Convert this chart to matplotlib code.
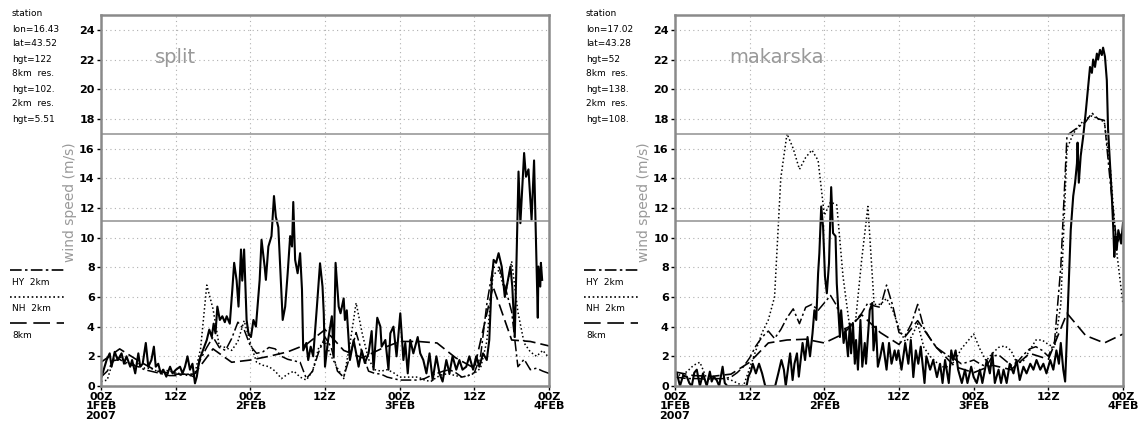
import numpy as np
import matplotlib.pyplot as plt
from matplotlib.lines import Line2D

# time axes (hours after 00Z 1 FEB 2007)
hours_1h = np.arange(0, 73, 1)
hours_3h = np.arange(0, 73, 3)

# ---------------- split ----------------
split_info = ['station', 'lon=16.43', 'lat=43.52', 'hgt=122', '8km  res.',
              'hgt=102.', '2km  res.', 'hgt=5.51']
split_obs_h = [0.1, 0.9, 1.4, 1.7, 2.2, 2.7, 3.3, 3.7, 4.1, 4.7, 5.0, 5.5, 6.0, 6.3, 6.7,
               7.2, 7.6, 8.1, 8.5, 8.8, 9.2, 9.6, 10.0, 10.5, 11.1, 11.5, 12.05, 12.7,
               13.1, 13.5, 13.9, 14.3, 14.7, 15.1, 15.4, 15.8, 16.2, 16.6, 17.0, 17.4,
               17.8, 18.1, 18.4, 18.7, 19.1, 19.5, 19.9, 20.2, 20.7, 21.1, 21.4, 21.8,
               22.1, 22.5, 22.7, 23.0, 23.4, 23.7, 24.1, 24.5, 24.9, 25.5, 25.8, 26.3,
               26.5, 26.9, 27.4, 27.8, 28.1, 28.5, 28.9, 29.2, 29.6, 30.0, 30.4, 30.7,
               30.9, 31.2, 31.6, 32.0, 32.3, 32.5, 33.0, 33.3, 33.7, 34.1, 34.7, 35.2,
               35.6, 35.8, 36.0, 36.5, 37.1, 37.4, 37.7, 38.2, 38.5, 39.0, 39.2, 39.5,
               40.0, 40.6, 41.1, 41.4, 41.9, 42.4, 43.0, 43.5, 43.8, 44.4, 44.9, 45.1,
               45.7, 46.2, 46.5, 47.0, 47.5, 48.1, 48.6, 48.9, 49.3, 49.7, 50.2, 50.9,
               51.3, 51.8, 52.3, 52.8, 53.3, 53.9, 54.4, 54.9, 55.5, 56.0, 56.5, 57.1,
               57.6, 58.1, 58.7, 59.2, 59.8, 60.3, 60.8, 61.4, 62.0, 62.4, 62.8, 63.1,
               63.5, 63.9, 64.4, 64.9, 65.3, 65.8, 66.1, 66.5, 67.1, 67.4, 67.7, 68.0,
               68.3, 68.7, 69.2, 69.6, 69.9, 70.2, 70.3, 70.6, 70.7, 70.9]
split_obs_v = [0.63, 1.75, 2.2, 1.3, 2.3, 1.75, 2.2, 1.5, 2.0, 1.3, 1.75, 0.85, 2.2, 1.3, 1.5,
               2.9, 1.3, 1.75, 2.65, 1.3, 1.5, 0.85, 1.1, 0.63, 1.3, 0.85, 1.1, 1.3,
               0.85, 1.3, 2.0, 1.1, 1.5, 0.18, 0.63, 1.75, 2.2, 2.65, 3.1, 3.8,
               3.3, 4.2, 3.55, 5.35, 4.45, 4.7, 4.3, 4.7, 4.2, 6.47, 8.3, 7.1,
               5.35, 9.2, 7.1, 9.2, 4.45, 3.55, 3.3, 4.45, 4.0, 7.15, 9.85, 8.05,
               7.15, 9.4, 10.1, 12.8, 11.4, 10.7, 7.15, 4.45, 5.35, 7.6, 10.1, 9.4,
               12.4, 8.5, 7.6, 8.95, 6.5, 2.4, 2.9, 1.75, 2.65, 2.0, 5.35, 8.27,
               6.7, 4.9, 1.3, 3.1, 4.7, 2.0, 8.3, 5.35, 4.9, 5.9, 4.45, 5.1,
               1.75, 3.1, 2.0, 1.3, 2.4, 1.55, 2.2, 3.7, 1.1, 4.6, 4.0, 2.65,
               3.1, 1.1, 3.55, 4.0, 2.0, 4.9, 1.75, 2.9, 0.85, 3.1, 2.2, 3.3,
               2.2, 1.75, 0.85, 2.2, 0.4, 2.0, 0.85, 0.3, 1.75, 0.85, 2.0, 1.1,
               1.75, 1.1, 1.3, 2.0, 1.1, 2.0, 1.3, 2.2, 1.75, 3.1, 7.15, 8.5,
               8.3, 8.95, 8.05, 6.0, 6.9, 8.05, 6.7, 3.3, 14.45, 10.97, 13.4, 15.7,
               14.1, 14.6, 11.2, 15.2, 9.85, 4.6, 8.05, 6.7, 8.3, 7.15]
split_hy = [0.6, 1.0, 1.7, 1.8, 1.5, 1.4, 1.3, 1.1, 1.0, 0.9, 0.8, 0.7, 0.7, 0.75, 0.8,
            0.6, 1.8, 2.6, 3.3, 2.6, 2.4, 3.2, 4.3, 3.8, 2.7, 2.2, 2.3, 2.6, 2.5, 2.0,
            1.8, 1.7, 1.6, 0.5, 1.0, 2.3, 3.3, 2.6, 1.0, 0.6, 2.0, 3.6, 2.2, 1.0, 0.85,
            0.8, 0.6, 0.5, 0.4, 0.4, 0.4, 0.4, 0.5, 0.7, 0.85, 1.0, 1.1, 0.9, 0.6, 0.7,
            0.9, 2.0, 5.5, 8.0, 8.0, 6.6, 5.0, 1.3, 1.8, 1.1, 1.2, 1.0, 0.85]
split_nh = [0.3, 0.4, 1.8, 2.0, 1.6, 1.4, 1.5, 1.2, 1.2, 1.0, 1.1, 1.0, 0.9, 0.8, 0.7,
            0.7, 2.5, 6.8, 5.2, 2.7, 2.6, 2.4, 3.0, 4.4, 2.9, 1.6, 1.4, 1.3, 1.0, 0.5,
            0.8, 1.0, 0.6, 0.4, 1.0, 2.6, 3.0, 2.0, 1.2, 0.5, 2.8, 5.6, 3.5, 1.8, 1.1,
            1.0, 1.1, 0.9, 0.6, 0.6, 0.6, 0.6, 0.4, 0.3, 0.6, 0.8, 0.8, 0.7, 0.6, 0.7,
            0.85, 1.2, 3.0, 7.5, 7.8, 6.2, 8.4, 5.0, 2.9, 2.3, 2.0, 2.4, 1.9]
split_8km = [1.6, 2.5, 1.7, 1.0, 0.8, 0.8, 2.5, 1.6, 1.75, 2.0, 2.3, 2.8, 3.8,
             2.4, 1.9, 2.5, 3.0, 3.0, 2.9, 1.9, 1.2, 6.7, 3.1, 3.0, 2.7]

# ---------------- makarska ----------------
mak_info = ['station', 'lon=17.02', 'lat=43.28', 'hgt=52', '8km  res.',
            'hgt=138.', '2km  res.', 'hgt=108.']
mak_obs_h = [0.0, 0.3, 0.8, 1.3, 1.9, 2.3, 2.7, 3.1, 3.5, 4.0, 4.5, 5.1, 5.6, 5.9, 6.2,
             6.7, 7.1, 7.65, 8.0, 8.4, 11.5, 11.8, 12.2, 12.5, 13.0, 13.5, 14.0, 14.5,
             16.1, 16.6, 17.1, 17.5, 17.8, 18.2, 18.5, 18.9, 19.2, 19.6, 19.9, 20.5,
             20.9, 21.3, 21.7, 22.1, 22.4, 22.7, 23.0, 23.2, 23.5, 23.8, 24.1, 24.4,
             24.75, 25.1, 25.4, 25.8, 26.0, 26.5, 26.7, 27.1, 27.4, 27.8, 28.1, 28.3,
             28.6, 28.9, 29.1, 29.4, 29.8, 30.1, 30.5, 30.7, 31.3, 31.7, 31.9, 32.3,
             32.6, 33.0, 33.4, 34.0, 34.4, 34.8, 35.3, 35.6, 35.9, 36.4, 37.0, 37.5,
             37.9, 38.3, 38.7, 39.1, 39.5, 40.1, 40.4, 41.0, 41.5, 42.1, 42.6, 43.0,
             43.4, 44.0, 44.4, 44.7, 45.1, 45.5, 46.1, 46.6, 47.0, 47.6, 48.0, 48.5,
             49.0, 49.4, 50.1, 50.6, 51.0, 51.4, 52.0, 52.4, 52.8, 53.3, 53.8, 54.4,
             54.9, 55.4, 56.0, 56.5, 57.1, 57.6, 58.1, 58.7, 59.2, 59.7, 60.3, 60.8,
             61.3, 61.7, 62.0, 62.4, 62.7, 62.9, 63.2, 63.6, 64.0, 64.3, 64.6, 64.7,
             64.9, 65.2, 65.6, 66.0, 66.3, 66.7, 67.0, 67.2, 67.5, 67.8, 68.0, 68.3,
             68.6, 68.8, 69.1, 69.4, 69.6, 69.9, 70.2, 70.45, 70.6, 70.8, 71.0, 71.25,
             71.7, 72.0]
mak_obs_v = [0.9, 0.85, 0.0, 0.7, 0.63, 0.2, 0.0, 0.9, 1.1, 0.0, 0.85, 0.0, 0.97, 0.3, 0.63,
             0.4, 0.0, 1.3, 0.2, 0.0, 0.0, 0.63, 1.0, 1.5, 0.85, 1.5, 0.85, 0.0,
             0.0, 0.85, 1.75, 1.1, 0.0, 1.3, 2.2, 0.4, 1.5, 2.2, 0.63, 2.9,
             1.75, 3.3, 2.0, 3.55, 5.1, 4.45, 7.6, 8.94, 12.1, 10.7, 7.4, 6.25,
             8.27, 13.4, 10.3, 10.1, 6.9, 3.3, 5.1, 2.9, 3.8, 2.0, 4.2, 2.2,
             4.2, 1.5, 3.1, 1.1, 4.45, 1.3, 2.9, 1.5, 5.1, 5.6, 2.4, 4.0,
             1.3, 2.0, 2.9, 1.1, 2.9, 1.5, 2.4, 1.75, 2.4, 1.1, 2.9, 1.5,
             3.1, 0.6, 2.4, 1.5, 2.65, 0.2, 2.0, 1.1, 1.75, 0.6, 1.5, 0.2,
             1.75, 0.2, 2.4, 1.75, 2.4, 1.1, 0.2, 1.1, 0.2, 1.3, 0.6, 0.2,
             1.1, 0.2, 1.75, 0.85, 2.2, 0.2, 1.1, 0.2, 1.1, 0.2, 1.5, 0.85,
             1.75, 0.4, 1.3, 0.85, 1.5, 1.1, 1.75, 1.1, 1.5, 0.85, 1.75, 1.1,
             2.4, 1.5, 2.9, 1.1, 0.3, 2.4, 6.0, 10.5, 12.8, 13.7, 15.0, 16.4,
             13.7, 15.5, 16.8, 18.4, 19.7, 21.5, 21.1, 22.0, 21.5, 22.4, 22.0, 22.65,
             22.3, 22.8, 22.2, 20.6, 17.3, 15.0, 12.8, 10.5, 8.7, 10.1, 9.2, 10.5,
             9.6, 11.0]
mak_hy = [0.6, 0.55, 0.5, 0.5, 0.5, 0.45, 0.5, 0.5, 0.5, 0.6, 0.9, 1.3, 1.9, 2.7, 3.3,
          3.7, 3.2, 3.8, 4.6, 5.2, 4.2, 5.3, 5.5, 5.1, 5.6, 6.1, 5.4, 3.8, 4.0, 4.4,
          4.9, 5.6, 5.4, 5.3, 6.8, 5.4, 3.6, 3.4, 4.2, 5.5, 3.9, 3.2, 2.6, 2.3, 2.0,
          1.8, 1.5, 1.6, 1.75, 1.5, 1.3, 2.0, 2.1, 1.75, 1.4, 1.6, 2.1, 2.5, 2.65, 2.4,
          2.0, 3.0, 8.0, 16.9, 17.2, 17.5, 17.8, 18.4, 18.0, 17.9, 13.5, 9.6, 10.5]
mak_nh = [0.85, 0.7, 1.0, 1.4, 1.6, 0.6, 0.45, 0.45, 0.5, 0.4, 0.2, 0.0, 1.2, 2.4, 3.6,
          4.45, 6.0, 14.0, 17.0, 16.0, 14.6, 15.4, 15.9, 15.2, 11.5, 12.4, 12.2, 7.4, 4.2, 4.3,
          8.5, 12.1, 5.5, 5.5, 5.9, 5.1, 3.9, 3.0, 3.3, 4.2, 2.6, 2.0, 1.6, 1.3, 1.3,
          1.7, 2.5, 3.0, 3.5, 2.5, 1.7, 2.2, 2.6, 2.7, 2.4, 1.5, 1.7, 2.4, 3.1, 3.1,
          2.8, 2.6, 5.5, 16.0, 17.0, 17.6, 18.0, 18.2, 18.0, 17.8, 14.5, 9.0, 5.5]
mak_8km = [0.95, 0.7, 0.65, 0.8, 1.6, 2.9, 3.1, 3.15, 2.9, 3.5, 4.8, 3.6, 2.8,
           4.4, 2.6, 1.3, 0.9, 1.4, 1.1, 2.2, 1.8, 4.9, 3.4, 2.9, 3.5]

xtick_pos = [0, 12, 24, 36, 48, 60, 72]
xtick_lab = ['00Z\n1FEB\n2007', '12Z', '00Z\n2FEB', '12Z', '00Z\n3FEB', '12Z', '00Z\n4FEB']

HY_STYLE = (0, (7, 2, 1.5, 2))
NH_STYLE = (0, (1, 1.6))
KM_STYLE = (0, (7, 3))

W, H = 1140, 423
fig = plt.figure(figsize=(W / 100, H / 100), dpi=100)


def draw_panel(left, name, info, obs_h, obs_v, hy, nh, km8):
    ax = fig.add_axes([left / W, 37 / H, 448 / W, 371 / H])
    ax.plot(hours_3h, km8, color='black', lw=1.2, ls=KM_STYLE)
    ax.plot(hours_1h, nh, color='black', lw=1.1, ls=NH_STYLE)
    ax.plot(hours_1h, hy, color='black', lw=1.1, ls=HY_STYLE)
    ax.plot(obs_h, obs_v, color='black', lw=1.5)
    ax.axhline(17, color='#9a9a9a', lw=1.2)
    ax.axhline(11.1, color='#9a9a9a', lw=1.2)
    ax.set_xlim(0, 72)
    ax.set_ylim(0, 25)
    ax.set_yticks(range(0, 25, 2))
    ax.set_xticks(xtick_pos)
    ax.set_xticklabels(xtick_lab, linespacing=0.9)
    ax.grid(color='#b0b0b0', ls=(0, (1, 3)), lw=0.8)
    ax.tick_params(direction='out', length=3, width=1, pad=1.5, labelsize=8)
    for lab in ax.get_xticklabels() + ax.get_yticklabels():
        lab.set_fontweight('bold')
    for sp in ax.spines.values():
        sp.set_color('#8a8a8a')
        sp.set_linewidth(1.8)
    ax.text(0.12, 0.885, name, transform=ax.transAxes, color='#999999',
            fontsize=14, va='center', ha='left')
    # y label, left of the tick labels
    fig.text((left - 31) / W, 1 - 202 / H, 'wind speed (m/s)', rotation=90,
             color='#999999', fontsize=10, ha='center', va='center')
    # station info block
    x0 = (left - 89) / W
    for i, s in enumerate(info):
        fig.text(x0, 1 - (14 + 15 * i) / H, s, fontsize=6.5, va='center', ha='left')
    # model legend
    for i, (style, lab) in enumerate([(HY_STYLE, 'HY  2km'), (NH_STYLE, 'NH  2km'),
                                      ((0, (10, 4)), '8km')]):
        yl = 1 - (270 + 26.5 * i) / H
        fig.add_artist(Line2D([x0 - 2 / W, x0 + 52 / W], [yl, yl], color='black',
                              lw=1.2, ls=style))
        fig.text(x0, yl - 12 / H, lab, fontsize=6.5, va='center', ha='left')
    return ax


draw_panel(101, 'split', split_info, split_obs_h, split_obs_v, split_hy, split_nh, split_8km)
draw_panel(675, 'makarska', mak_info, mak_obs_h, mak_obs_v, mak_hy, mak_nh, mak_8km)

fig.savefig('out.png', dpi=100, facecolor='white')
